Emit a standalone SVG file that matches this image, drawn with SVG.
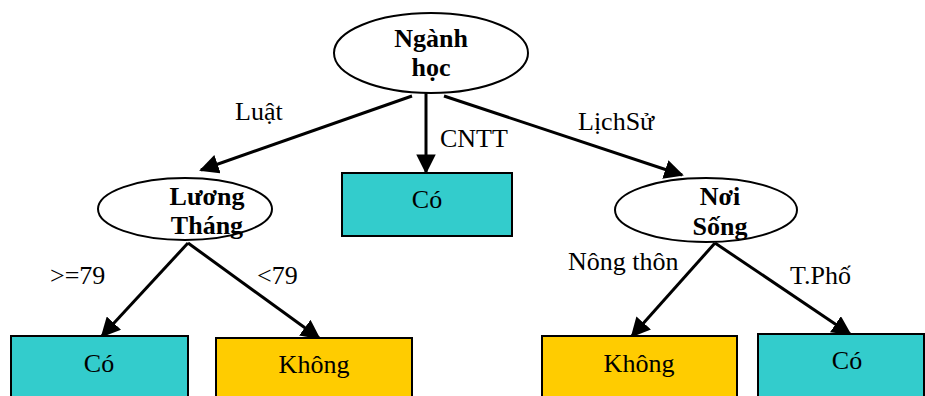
<svg xmlns="http://www.w3.org/2000/svg" width="925" height="396" viewBox="0 0 925 396">
<style>
.ell{fill:#fff;stroke:#000;stroke-width:2}
.cyan{fill:#33CCCC;stroke:#000;stroke-width:2}
.yel{fill:#FFCC00;stroke:#000;stroke-width:2}
.bt{font-family:"Liberation Serif","Times New Roman",serif;font-size:26px;font-weight:bold;text-anchor:middle;fill:#000}
.t{font-family:"Liberation Serif","Times New Roman",serif;font-size:26px;text-anchor:middle;fill:#000}
.lbl{font-family:"Liberation Serif","Times New Roman",serif;font-size:26px;fill:#000}
.edge{stroke:#000;stroke-width:3;fill:none;marker-end:url(#ah)}
</style>
<defs>
<marker id="ah" viewBox="0 0 10 10" refX="9" refY="5" markerWidth="6.5" markerHeight="6.5" markerUnits="strokeWidth" orient="auto">
<path d="M0,0 L10,5 L0,10 z" fill="#000"/>
</marker>
</defs>
<rect width="925" height="396" fill="#fff"/>
<g id="connectors">
<line class="edge" x1="412" y1="96" x2="201" y2="170"/>
<line class="edge" x1="426" y1="93" x2="426" y2="172"/>
<line class="edge" x1="444" y1="96" x2="682" y2="175"/>
<line class="edge" x1="188" y1="243" x2="102" y2="336"/>
<line class="edge" x1="188" y1="243" x2="319" y2="338"/>
<line class="edge" x1="715" y1="243" x2="632" y2="336"/>
<line class="edge" x1="715" y1="243" x2="850" y2="334"/>
<text class="lbl" x="235" y="120">Luật</text>
<text class="lbl" x="440" y="147">CNTT</text>
<text class="lbl" x="578" y="130">LịchSử</text>
<text class="lbl" x="50" y="284">&gt;=79</text>
<text class="lbl" x="257" y="284">&lt;79</text>
<text class="lbl" x="568" y="270">Nông thôn</text>
<text class="lbl" x="790" y="284">T.Phố</text>
</g>
<g id="root">
<ellipse class="ell" cx="431" cy="53" rx="97" ry="40"/>
<text class="bt" x="431" y="47">Ngành</text>
<text class="bt" x="431" y="76">học</text>
</g>
<g id="luong">
<ellipse class="ell" cx="185" cy="209" rx="87" ry="31"/>
<text class="bt" x="207" y="205">Lương</text>
<text class="bt" x="207" y="234">Tháng</text>
</g>
<g id="cntt-co">
<rect class="cyan" x="342" y="173" width="170" height="63"/>
<text class="t" x="427" y="208">Có</text>
</g>
<g id="noi">
<ellipse class="ell" cx="706" cy="210" rx="91" ry="32"/>
<text class="bt" x="720" y="205">Nơi</text>
<text class="bt" x="720" y="235">Sống</text>
</g>
<g id="co-left">
<rect class="cyan" x="11" y="336" width="177" height="70"/>
<text class="t" x="99" y="372">Có</text>
</g>
<g id="khong-left">
<rect class="yel" x="216" y="338" width="196" height="70"/>
<text class="t" x="314" y="373">Không</text>
</g>
<g id="khong-right">
<rect class="yel" x="542" y="336" width="195" height="70"/>
<text class="t" x="639" y="372">Không</text>
</g>
<g id="co-right">
<rect class="cyan" x="758" y="334" width="166" height="70"/>
<text class="t" x="847" y="369">Có</text>
</g>
</svg>
